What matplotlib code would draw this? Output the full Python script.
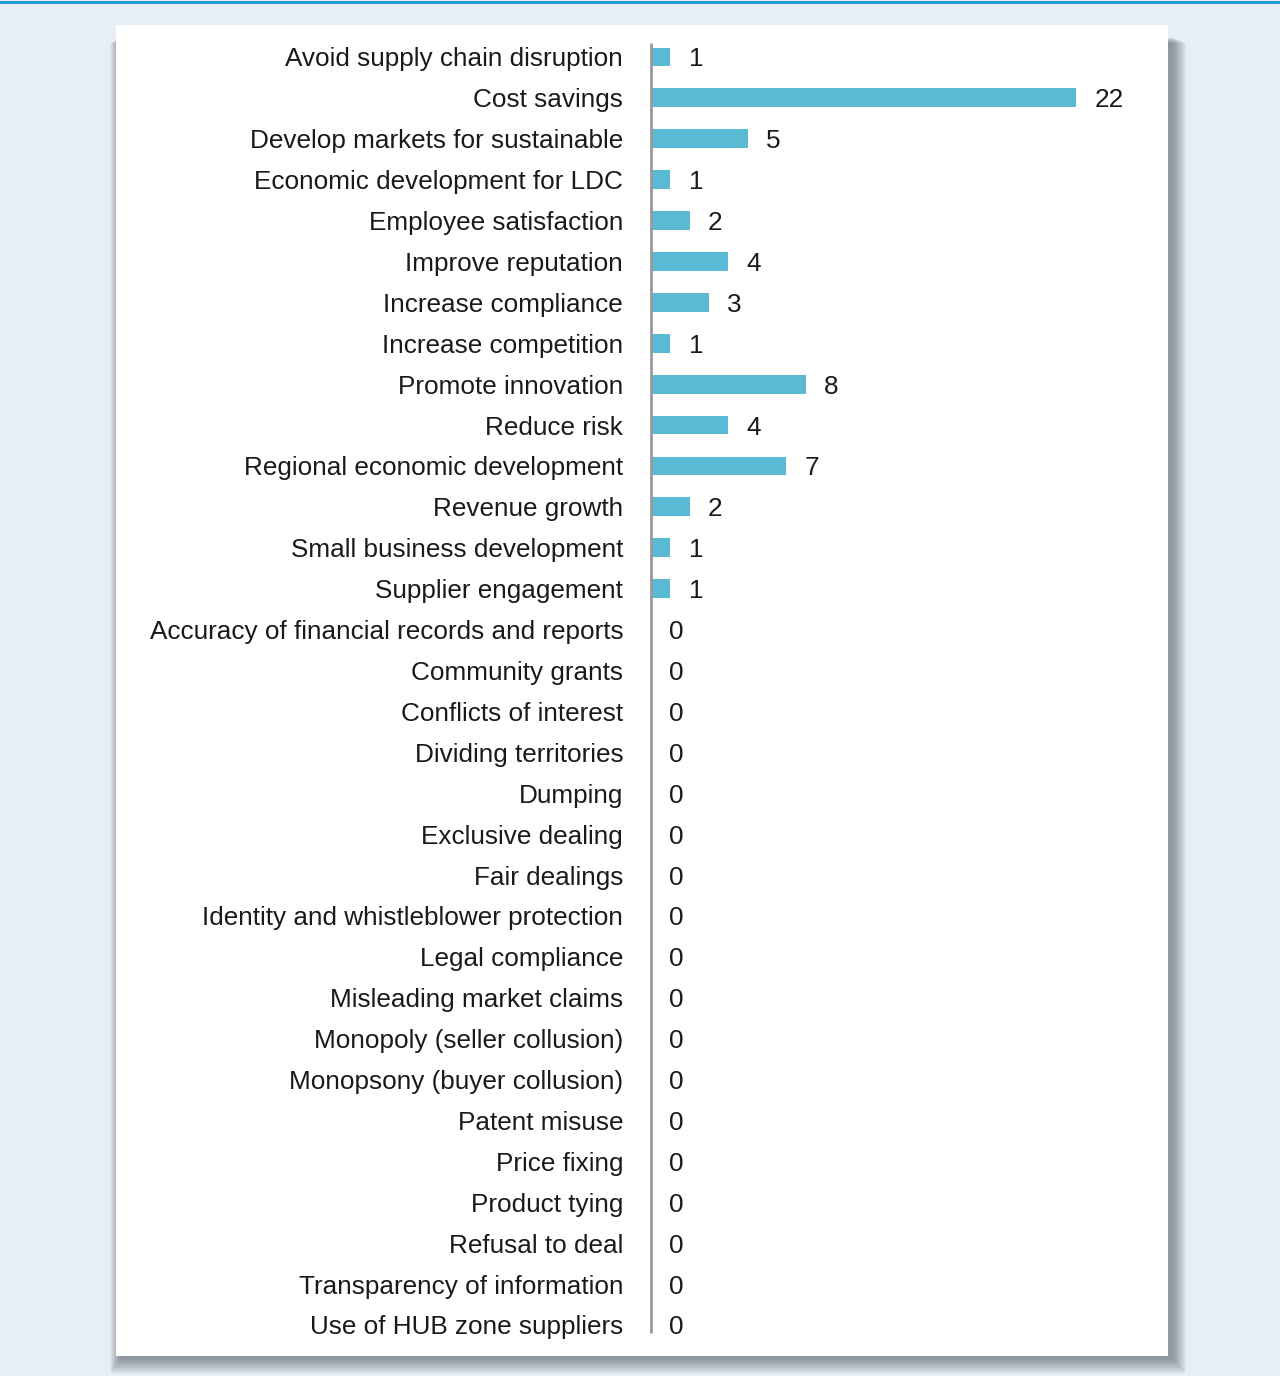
import numpy as np
import matplotlib.pyplot as plt
from matplotlib.patches import Rectangle

categories = [
    "Avoid supply chain disruption", "Cost savings", "Develop markets for sustainable",
    "Economic development for LDC", "Employee satisfaction", "Improve reputation",
    "Increase compliance", "Increase competition", "Promote innovation", "Reduce risk",
    "Regional economic development", "Revenue growth", "Small business development",
    "Supplier engagement", "Accuracy of financial records and reports", "Community grants",
    "Conflicts of interest", "Dividing territories", "Dumping", "Exclusive dealing",
    "Fair dealings", "Identity and whistleblower protection", "Legal compliance",
    "Misleading market claims", "Monopoly (seller collusion)", "Monopsony (buyer collusion)",
    "Patent misuse", "Price fixing", "Product tying", "Refusal to deal",
    "Transparency of information", "Use of HUB zone suppliers",
]
counts = [1, 22, 5, 1, 2, 4, 3, 1, 8, 4, 7, 2, 1, 1,
          0, 0, 0, 0, 0, 0, 0, 0, 0, 0, 0, 0, 0, 0, 0, 0, 0, 0]

W, H = 1280, 1376
fig = plt.figure(figsize=(W / 100, H / 100), dpi=100)
fig.patch.set_facecolor("#e8eef6")

# top rule
fig.add_artist(Rectangle((0, 1 - 4 / H), 1, 3 / H, transform=fig.transFigure,
                         facecolor="#1f9bd2", edgecolor="none", zorder=-5))

# panel with a soft shadow (stacked translucent rectangles)
px, py, pw, ph = 116, 25, 1052, 1331
for k in range(20, 0, -1):
    fig.add_artist(Rectangle(((px - k * 0.5 + 4) / W, 1 - (py + ph + k * 0.8 + 2) / H),
                             (pw + k * 1.2) / W, (ph + k * 0.5 - 10) / H,
                             transform=fig.transFigure, facecolor="#4e545c",
                             edgecolor="none", alpha=0.035, zorder=-4))
fig.add_artist(Rectangle((px / W, 1 - (py + ph) / H), pw / W, ph / H,
                         transform=fig.transFigure, facecolor="white",
                         edgecolor="none", zorder=-3))

x0, x1 = 651, 1140
ytop, ybot = 36.5, 1345.4
scale = (1076 - 651) / 22
ax = fig.add_axes([x0 / W, 1 - ybot / H, (x1 - x0) / W, (ybot - ytop) / H])
ax.set_facecolor("none")

fs = 18.8
y = np.arange(len(categories))
ax.barh(y, counts, height=0.46, color="#5ab9d3", zorder=2)
for yi, v in zip(y, counts):
    ax.text(v + 0.95, yi, str(v), va="center_baseline", ha="left", fontsize=fs,
            color="#1a1a1a", family="Liberation Sans")

ax.set_ylim(len(categories) - 0.5, -0.5)
ax.set_xlim(0, (x1 - x0) / scale)
ax.set_yticks(y)
ax.set_yticklabels(categories, fontsize=fs, color="#1a1a1a", family="Liberation Sans",
                   va="center_baseline")
ax.tick_params(axis="y", length=0, pad=20)
ax.set_xticks([])
for s in ["top", "right", "bottom"]:
    ax.spines[s].set_visible(False)
ax.spines["left"].set_color("#999999")
ax.spines["left"].set_linewidth(2)
ax.spines["left"].set_capstyle("butt")
ax.spines["left"].set_bounds(-0.35, len(categories) - 0.8)

fig.savefig("out.png", dpi=100, facecolor=fig.get_facecolor())
